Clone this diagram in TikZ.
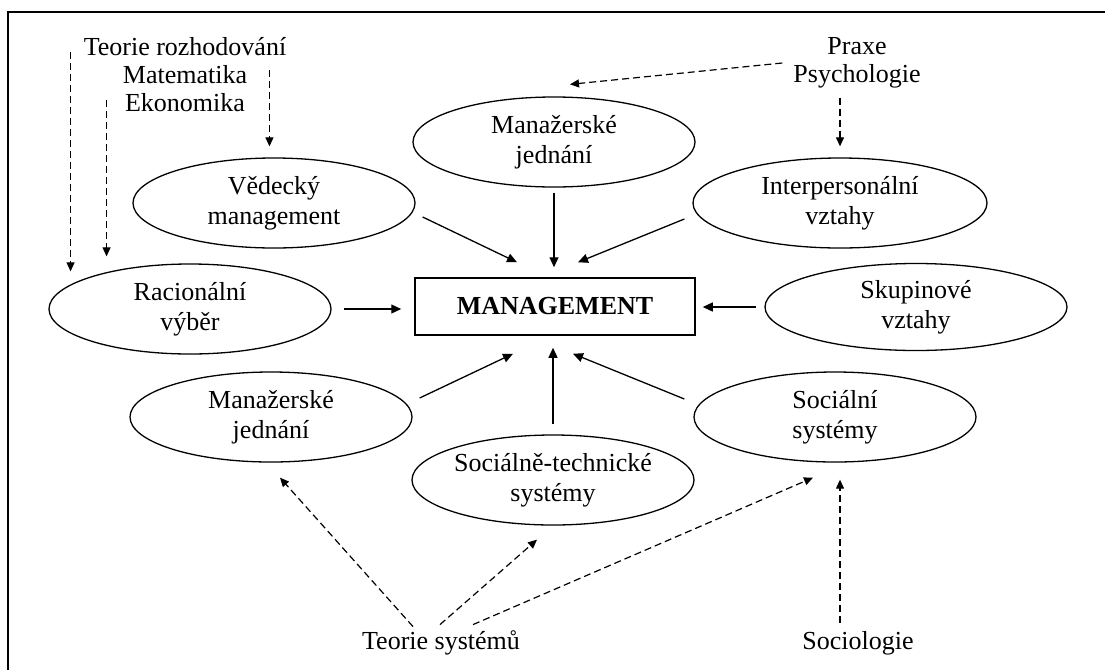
\documentclass[tikz,border=0pt]{standalone}
\usepackage{fontspec}
\setmainfont{Liberation Serif}
\usetikzlibrary{calc,shapes.geometric,arrows.meta}

\begin{document}
\begin{tikzpicture}[x=1pt,y=-1pt]
    \tikzstyle{oval}=[draw,ellipse,line width=1.3pt,inner sep=0pt,minimum width=282pt,
        minimum height=90pt,align=center,font=\fontsize{26}{30}\selectfont]
    \tikzstyle{src}=[inner sep=1pt,align=center,font=\fontsize{26}{28}\selectfont]
    \tikzstyle{flow}=[line width=1.3pt,-{Triangle[length=10pt,width=9pt]}]
    \tikzstyle{infl}=[line width=1.2pt,dash pattern=on 7pt off 4pt,
        -{Triangle[length=9pt,width=8pt]}]
    \useasboundingbox (0,0) rectangle (1105,670);
    % Frame
    \draw[line width=2.8pt] (8,670) -- (8,12) -- (1105,12);
    % Centre and schools
    \node[draw,line width=1.5pt,minimum width=280pt,minimum height=57pt,
        font=\fontsize{26}{30}\selectfont\bfseries] (mgmt) at (555,306.5) {MANAGEMENT};
    \node[oval] (ved) at (274,203) {Vědecký\\management};
    \node[oval] (mj1) at (554,142) {Manažerské\\jednání};
    \node[oval,minimum width=294pt] (inter) at (840,203) {Interpersonální\\vztahy};
    \node[oval] (rac) at (190,309) {Racionální\\výběr};
    \node[oval,minimum width=302pt,minimum height=87pt] (skup) at (916,307) {Skupinové\\vztahy};
    \node[oval] (mj2) at (271,417) {Manažerské\\jednání};
    \node[oval] (stech) at (553,480) {Sociálně-technické\\systémy};
    \node[oval] (socsys) at (835,417) {Sociální\\systémy};
    % Sources
    \node[src] (decis) at (185,75) {Teorie rozhodování\\Matematika\\Ekonomika};
    \node[src] (praxe) at (857,63) {Praxe\\Psychologie};
    \node[src] (tsys) at (441,643) {Teorie systémů};
    \node[src] (socio) at (858,643) {Sociologie};
    % Solid arrows
    \draw[flow] ($(ved.east)+(7,14)$) -- ($(mgmt.north)+(-38,-15)$);
    \draw[flow,shorten <=5pt,shorten >=10pt] (mj1.south) -- (mj1.south |- mgmt.north);
    \draw[flow] ($(inter.west)+(-8,16)$) -- ($(mgmt.north)+(23,-15)$);
    \draw[flow,shorten <=12pt,shorten >=13pt] (rac.east) -- (rac.east -| mgmt.west);
    \draw[flow,shorten <=8pt,shorten >=7pt] (skup.west) -- (skup.west -| mgmt.east);
    \draw[flow] ($(mj2.east)+(7,-19)$) -- ($(mgmt.south)+(-42,18)$);
    \draw[flow,shorten <=10pt,shorten >=12pt] (stech.north) -- (stech.north |- mgmt.south);
    \draw[flow] ($(socsys.west)+(-9,-18)$) -- ($(mgmt.south)+(18,18)$);
    % Dashed arrows
    \draw[infl] ($(decis.north west)+(-12,15)$) -- ($(decis.north west |- rac.north)+(-12,8)$);
    \draw[infl] ($(decis.west)+(24,25)$) -- ($(decis.west |- rac.north)+(24,-7)$);
    \draw[infl] ($(decis.east)+(-18,-5)$) -- ($(decis.east |- ved.north)+(-18,-11)$);
    \draw[infl] ($(praxe.west)+(-10,0)$) -- ($(mj1.north)+(16,-12)$);
    \draw[infl] ($(praxe.south -| inter.north)+(0,8)$) -- ($(inter.north)+(0,-11)$);
    \draw[infl] ($(tsys.north)+(-28,-3)$) -- ($(mj2.south)+(9,15)$);
    \draw[infl] ($(tsys.north)+(-1,-5)$) -- ($(stech.south)+(-16,14)$);
    \draw[infl] ($(tsys.north)+(32,-5)$) -- ($(socsys.south)+(-22,15)$);
    \draw[infl] ($(socio.north -| socsys.south)+(5,-7)$) -- ($(socsys.south)+(5,17)$);
\end{tikzpicture}
\end{document}
